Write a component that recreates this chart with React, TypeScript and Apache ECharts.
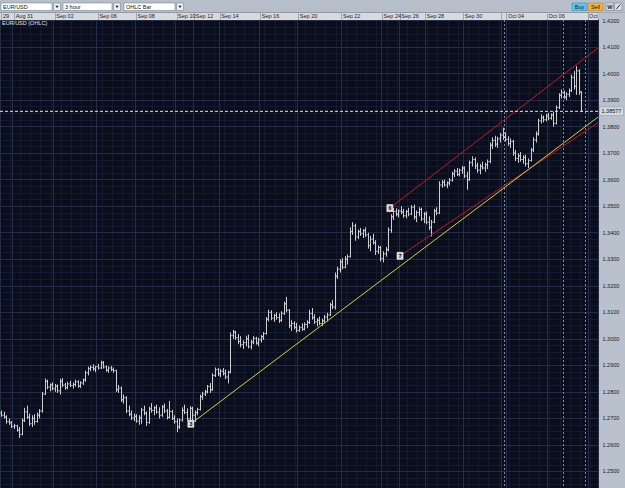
import React, { useEffect, useRef } from 'react';
import * as echarts from 'echarts';

const FONT = '"Liberation Sans", Arial, sans-serif';
const SLOT_COUNT = 235;
const seriesName = 'EUR/USD (OHLC)';
const toolbarItems = ['EUR/USD', '3 hour', 'OHLC Bar'];

// first bar index of each labelled day in the header strip
const dayStarts = [0, 5, 21, 38, 53, 69, 76, 86, 102, 117, 134, 150, 157, 167, 182, 197, 199, 215, 231];
const dayNames = ['29', 'Aug 31', 'Sep 02', 'Sep 06', 'Sep 08', 'Sep 10', 'Sep 12', 'Sep 14', 'Sep 16', 'Sep 20', 'Sep 22', 'Sep 24', 'Sep 26', 'Sep 28', 'Sep 30', '', 'Oct 04', 'Oct 06', 'Oct 08'];

// 3-hour bars: [open, high, low, close]
const ohlc: number[][] = [
  [1.2720, 1.2730, 1.2706, 1.2712], [1.2712, 1.2725, 1.2700, 1.2705], [1.2705, 1.2712, 1.2680, 1.2688], [1.2688, 1.2700, 1.2676, 1.2684],
  [1.2684, 1.2690, 1.2664, 1.2670], [1.2670, 1.2680, 1.2660, 1.2672], [1.2672, 1.2676, 1.2650, 1.2656], [1.2656, 1.2668, 1.2627, 1.2640],
  [1.2640, 1.2700, 1.2636, 1.2692], [1.2692, 1.2740, 1.2686, 1.2725], [1.2725, 1.2748, 1.2698, 1.2705], [1.2705, 1.2718, 1.2672, 1.2680],
  [1.2680, 1.2712, 1.2668, 1.2700], [1.2700, 1.2716, 1.2676, 1.2688], [1.2688, 1.2722, 1.2684, 1.2712], [1.2712, 1.2735, 1.2700, 1.2728],
  [1.2728, 1.2800, 1.2722, 1.2792], [1.2792, 1.2850, 1.2788, 1.2840], [1.2840, 1.2846, 1.2810, 1.2818], [1.2818, 1.2832, 1.2802, 1.2826],
  [1.2826, 1.2836, 1.2806, 1.2812], [1.2812, 1.2830, 1.2800, 1.2822], [1.2822, 1.2828, 1.2796, 1.2804], [1.2804, 1.2850, 1.2790, 1.2840],
  [1.2840, 1.2852, 1.2818, 1.2826], [1.2826, 1.2834, 1.2808, 1.2816], [1.2816, 1.2838, 1.2810, 1.2830], [1.2830, 1.2842, 1.2818, 1.2824],
  [1.2824, 1.2836, 1.2812, 1.2828], [1.2828, 1.2846, 1.2820, 1.2838], [1.2838, 1.2844, 1.2816, 1.2822], [1.2822, 1.2840, 1.2815, 1.2834],
  [1.2834, 1.2850, 1.2826, 1.2846], [1.2846, 1.2880, 1.2838, 1.2872], [1.2872, 1.2895, 1.2862, 1.2888], [1.2888, 1.2900, 1.2878, 1.2892],
  [1.2892, 1.2904, 1.2880, 1.2886], [1.2886, 1.2898, 1.2874, 1.2895], [1.2895, 1.2906, 1.2884, 1.2890], [1.2890, 1.2918, 1.2886, 1.2910],
  [1.2910, 1.2916, 1.2888, 1.2894], [1.2894, 1.2900, 1.2876, 1.2882], [1.2882, 1.2896, 1.2872, 1.2890], [1.2890, 1.2898, 1.2878, 1.2884],
  [1.2884, 1.2892, 1.2872, 1.2880], [1.2880, 1.2884, 1.2800, 1.2808], [1.2808, 1.2826, 1.2796, 1.2814], [1.2814, 1.2820, 1.2762, 1.2770],
  [1.2770, 1.2790, 1.2756, 1.2778], [1.2778, 1.2784, 1.2720, 1.2728], [1.2728, 1.2748, 1.2708, 1.2716], [1.2716, 1.2730, 1.2694, 1.2702],
  [1.2702, 1.2718, 1.2690, 1.2708], [1.2708, 1.2716, 1.2684, 1.2690], [1.2690, 1.2712, 1.2676, 1.2702], [1.2702, 1.2740, 1.2680, 1.2732],
  [1.2732, 1.2748, 1.2712, 1.2720], [1.2720, 1.2726, 1.2672, 1.2684], [1.2684, 1.2744, 1.2680, 1.2736], [1.2736, 1.2758, 1.2722, 1.2730],
  [1.2730, 1.2746, 1.2712, 1.2740], [1.2740, 1.2752, 1.2718, 1.2724], [1.2724, 1.2742, 1.2700, 1.2712], [1.2712, 1.2750, 1.2706, 1.2744],
  [1.2744, 1.2756, 1.2720, 1.2728], [1.2728, 1.2736, 1.2696, 1.2704], [1.2704, 1.2766, 1.2700, 1.2726], [1.2726, 1.2732, 1.2694, 1.2700],
  [1.2700, 1.2712, 1.2680, 1.2688], [1.2688, 1.2700, 1.2648, 1.2668], [1.2668, 1.2700, 1.2660, 1.2694], [1.2694, 1.2742, 1.2688, 1.2730],
  [1.2730, 1.2752, 1.2716, 1.2722], [1.2722, 1.2738, 1.2692, 1.2700], [1.2700, 1.2746, 1.2690, 1.2738], [1.2738, 1.2744, 1.2682, 1.2712],
  [1.2712, 1.2730, 1.2686, 1.2722], [1.2722, 1.2740, 1.2712, 1.2734], [1.2734, 1.2790, 1.2730, 1.2782], [1.2782, 1.2800, 1.2770, 1.2792],
  [1.2792, 1.2808, 1.2784, 1.2800], [1.2800, 1.2826, 1.2794, 1.2820], [1.2820, 1.2834, 1.2796, 1.2808], [1.2808, 1.2870, 1.2804, 1.2862],
  [1.2862, 1.2892, 1.2856, 1.2884], [1.2884, 1.2890, 1.2860, 1.2868], [1.2868, 1.2886, 1.2856, 1.2878], [1.2878, 1.2890, 1.2862, 1.2870],
  [1.2870, 1.2884, 1.2848, 1.2856], [1.2856, 1.2880, 1.2832, 1.2874], [1.2874, 1.3024, 1.2870, 1.3012], [1.3012, 1.3034, 1.3000, 1.3026],
  [1.3026, 1.3030, 1.2996, 1.3004], [1.3004, 1.3018, 1.2980, 1.2990], [1.2990, 1.3010, 1.2968, 1.2978], [1.2978, 1.2994, 1.2962, 1.2986],
  [1.2986, 1.3012, 1.2972, 1.3000], [1.3000, 1.3016, 1.2964, 1.2970], [1.2970, 1.2996, 1.2960, 1.2988], [1.2988, 1.3010, 1.2980, 1.3002],
  [1.3002, 1.3008, 1.2978, 1.2984], [1.2984, 1.3004, 1.2972, 1.2996], [1.2996, 1.3014, 1.2986, 1.3008], [1.3008, 1.3026, 1.2996, 1.3020],
  [1.3020, 1.3082, 1.3016, 1.3074], [1.3074, 1.3110, 1.3066, 1.3100], [1.3100, 1.3108, 1.3070, 1.3078], [1.3078, 1.3094, 1.3064, 1.3088],
  [1.3088, 1.3100, 1.3072, 1.3080], [1.3080, 1.3096, 1.3060, 1.3070], [1.3070, 1.3104, 1.3064, 1.3096], [1.3096, 1.3140, 1.3090, 1.3132],
  [1.3132, 1.3158, 1.3100, 1.3108], [1.3108, 1.3112, 1.3040, 1.3050], [1.3050, 1.3070, 1.3030, 1.3058], [1.3058, 1.3066, 1.3036, 1.3044],
  [1.3044, 1.3060, 1.3024, 1.3032], [1.3032, 1.3050, 1.3026, 1.3042], [1.3042, 1.3058, 1.3030, 1.3036], [1.3036, 1.3062, 1.3032, 1.3054],
  [1.3054, 1.3070, 1.3040, 1.3062], [1.3062, 1.3110, 1.3056, 1.3096], [1.3096, 1.3116, 1.3072, 1.3080], [1.3080, 1.3092, 1.3056, 1.3064],
  [1.3064, 1.3078, 1.3046, 1.3070], [1.3070, 1.3084, 1.3052, 1.3058], [1.3058, 1.3076, 1.3048, 1.3068], [1.3068, 1.3090, 1.3060, 1.3082],
  [1.3082, 1.3098, 1.3066, 1.3090], [1.3090, 1.3136, 1.3086, 1.3128], [1.3128, 1.3146, 1.3112, 1.3120], [1.3120, 1.3250, 1.3110, 1.3236],
  [1.3236, 1.3272, 1.3226, 1.3262], [1.3262, 1.3300, 1.3250, 1.3290], [1.3290, 1.3304, 1.3262, 1.3270], [1.3270, 1.3312, 1.3266, 1.3300],
  [1.3300, 1.3318, 1.3280, 1.3310], [1.3310, 1.3420, 1.3306, 1.3404], [1.3404, 1.3440, 1.3392, 1.3426], [1.3426, 1.3434, 1.3370, 1.3384],
  [1.3384, 1.3412, 1.3376, 1.3404], [1.3404, 1.3418, 1.3388, 1.3396], [1.3396, 1.3414, 1.3380, 1.3408], [1.3408, 1.3420, 1.3384, 1.3392],
  [1.3392, 1.3400, 1.3340, 1.3352], [1.3352, 1.3388, 1.3330, 1.3376], [1.3376, 1.3396, 1.3356, 1.3362], [1.3362, 1.3372, 1.3316, 1.3330],
  [1.3330, 1.3352, 1.3320, 1.3344], [1.3344, 1.3350, 1.3292, 1.3302], [1.3302, 1.3330, 1.3288, 1.3320], [1.3320, 1.3346, 1.3310, 1.3336],
  [1.3336, 1.3420, 1.3330, 1.3410], [1.3410, 1.3470, 1.3400, 1.3460], [1.3460, 1.3494, 1.3448, 1.3480], [1.3480, 1.3492, 1.3462, 1.3470],
  [1.3470, 1.3488, 1.3458, 1.3482], [1.3482, 1.3500, 1.3470, 1.3478], [1.3478, 1.3490, 1.3456, 1.3464], [1.3464, 1.3486, 1.3454, 1.3480],
  [1.3480, 1.3494, 1.3462, 1.3470], [1.3470, 1.3504, 1.3466, 1.3496], [1.3496, 1.3506, 1.3450, 1.3460], [1.3460, 1.3484, 1.3440, 1.3476],
  [1.3476, 1.3496, 1.3462, 1.3488], [1.3488, 1.3494, 1.3444, 1.3452], [1.3452, 1.3478, 1.3436, 1.3470], [1.3470, 1.3480, 1.3432, 1.3440],
  [1.3440, 1.3462, 1.3410, 1.3420], [1.3420, 1.3448, 1.3386, 1.3440], [1.3440, 1.3490, 1.3436, 1.3482], [1.3482, 1.3496, 1.3466, 1.3474],
  [1.3474, 1.3594, 1.3470, 1.3580], [1.3580, 1.3598, 1.3570, 1.3590], [1.3590, 1.3600, 1.3574, 1.3580], [1.3580, 1.3594, 1.3568, 1.3588],
  [1.3588, 1.3606, 1.3578, 1.3598], [1.3598, 1.3630, 1.3592, 1.3622], [1.3622, 1.3640, 1.3610, 1.3632], [1.3632, 1.3644, 1.3614, 1.3620],
  [1.3620, 1.3642, 1.3612, 1.3636], [1.3636, 1.3652, 1.3622, 1.3644], [1.3644, 1.3650, 1.3606, 1.3614], [1.3614, 1.3630, 1.3562, 1.3600],
  [1.3600, 1.3672, 1.3596, 1.3664], [1.3664, 1.3688, 1.3650, 1.3676], [1.3676, 1.3684, 1.3640, 1.3652], [1.3652, 1.3664, 1.3626, 1.3636],
  [1.3636, 1.3660, 1.3620, 1.3650], [1.3650, 1.3668, 1.3638, 1.3644], [1.3644, 1.3664, 1.3630, 1.3656], [1.3656, 1.3676, 1.3640, 1.3668],
  [1.3668, 1.3740, 1.3662, 1.3730], [1.3730, 1.3760, 1.3716, 1.3748], [1.3748, 1.3766, 1.3724, 1.3734], [1.3734, 1.3762, 1.3720, 1.3754],
  [1.3754, 1.3776, 1.3740, 1.3768], [1.3768, 1.3796, 1.3750, 1.3760], [1.3760, 1.3778, 1.3744, 1.3752], [1.3752, 1.3764, 1.3728, 1.3736],
  [1.3736, 1.3756, 1.3720, 1.3744], [1.3744, 1.3750, 1.3690, 1.3700], [1.3700, 1.3712, 1.3670, 1.3680], [1.3680, 1.3700, 1.3664, 1.3690],
  [1.3690, 1.3704, 1.3668, 1.3676], [1.3676, 1.3692, 1.3660, 1.3684], [1.3684, 1.3694, 1.3650, 1.3660], [1.3660, 1.3680, 1.3644, 1.3672],
  [1.3672, 1.3720, 1.3668, 1.3712], [1.3712, 1.3760, 1.3704, 1.3750], [1.3750, 1.3782, 1.3740, 1.3772], [1.3772, 1.3830, 1.3766, 1.3822],
  [1.3822, 1.3846, 1.3812, 1.3834], [1.3834, 1.3842, 1.3816, 1.3826], [1.3826, 1.3848, 1.3820, 1.3840], [1.3840, 1.3852, 1.3824, 1.3832],
  [1.3832, 1.3850, 1.3826, 1.3844], [1.3844, 1.3856, 1.3800, 1.3812], [1.3812, 1.3880, 1.3808, 1.3872], [1.3872, 1.3926, 1.3866, 1.3918],
  [1.3918, 1.3940, 1.3906, 1.3930], [1.3930, 1.3936, 1.3904, 1.3912], [1.3912, 1.3930, 1.3900, 1.3922], [1.3922, 1.3944, 1.3912, 1.3936],
  [1.3936, 1.3996, 1.3930, 1.3986], [1.3986, 1.4010, 1.3940, 1.3952], [1.3952, 1.4028, 1.3920, 1.4010], [1.4010, 1.4016, 1.3920, 1.3930],
  [1.3930, 1.3934, 1.3856, 1.3858],
];

const lastPrice = 1.38577;

// trend lines: [slot, price] anchor points
const yellowTrend = [[74.5, 1.2680], [234.5, 1.3836]];
const redUpper = [[152.7, 1.3493], [234.5, 1.4097]];
const redLower = [[156.7, 1.3313], [234.5, 1.3815]];

// numbered anchor points
const pointLabels = ['3', '6', '7'];
const pointSlots = [74.5, 152.7, 156.7];
const pointPrices = [1.2680, 1.3493, 1.3313];

// dashed vertical session markers
const sessionMarks = [197.5, 220.7, 229.4];

const PANEL = '#b9c1cc';
const TOOLBAR = '#b6bec9';
const HEADER = '#d6d9dd';
const PLOT_BG = '#090d1c';

// The chart canvas starts SHIFT px above the page top so the price scale
// (1.24 .. 1.43) can use round tick values while the page shows 1.2437 .. 1.4203.
const SHIFT = 6;
const CHART_H = 504;

function buildOption() {
  const cats = Array.from({ length: SLOT_COUNT }, (_, i) => String(i));
  const isDay = (i: number) => dayStarts.indexOf(i) >= 0;
  const Y = (v: number) => v + SHIFT;

  const dropdownLayout = [
    { x: 1, w: 51 },
    { x: 63, w: 49 },
    { x: 124, w: 51 },
  ];
  const graphics: any[] = [
    { type: 'rect', z: 0, silent: true, shape: { x: 598, y: 0, width: 27, height: CHART_H }, style: { fill: PANEL } },
    { type: 'rect', z: 50, silent: true, shape: { x: 0, y: 0, width: 625, height: Y(12.5) }, style: { fill: TOOLBAR } },
    { type: 'rect', z: 50, silent: true, shape: { x: 0, y: Y(12.5), width: 598, height: 7.5 }, style: { fill: HEADER } },
    { type: 'line', z: 51, silent: true, shape: { x1: 0, y1: Y(12.5), x2: 625, y2: Y(12.5) }, style: { stroke: '#8e96a2', lineWidth: 0.6 } },
    { type: 'rect', z: 70, silent: true, shape: { x: 598, y: Y(12.8), width: 27, height: 6.2 }, style: { fill: PANEL } },
  ];
  dropdownLayout.forEach((d, k) => {
    graphics.push({ type: 'rect', z: 52, silent: true, shape: { x: d.x, y: Y(3), width: d.w, height: 7.5 }, style: { fill: '#ffffff', stroke: '#7b8796', lineWidth: 0.6 } });
    graphics.push({ type: 'text', z: 53, silent: true, style: { x: d.x + 2, y: Y(6.9), text: toolbarItems[k], fill: '#111', fontSize: 5.5, fontFamily: FONT, verticalAlign: 'middle' } });
    const ax = d.x + d.w + 1.5;
    graphics.push({ type: 'rect', z: 52, silent: true, shape: { x: ax, y: Y(3), width: 7, height: 7.5 }, style: { fill: '#eceef1', stroke: '#7b8796', lineWidth: 0.6 } });
    graphics.push({ type: 'polygon', z: 53, silent: true, shape: { points: [[ax + 1.8, Y(5.8)], [ax + 5.2, Y(5.8)], [ax + 3.5, Y(8)]] }, style: { fill: '#222' } });
  });
  graphics.push({ type: 'rect', z: 52, silent: true, shape: { x: 572, y: Y(3), width: 15, height: 7.5 }, style: { fill: '#5ec4f2', stroke: '#3c8fbf', lineWidth: 0.6 } });
  graphics.push({ type: 'text', z: 53, silent: true, style: { x: 579.5, y: Y(6.9), text: 'Buy', fill: '#102030', fontSize: 5.5, fontFamily: FONT, align: 'center', verticalAlign: 'middle' } });
  graphics.push({ type: 'rect', z: 52, silent: true, shape: { x: 588, y: Y(3), width: 15, height: 7.5 }, style: { fill: '#f4b23c', stroke: '#c2821e', lineWidth: 0.6 } });
  graphics.push({ type: 'text', z: 53, silent: true, style: { x: 595.5, y: Y(6.9), text: 'Sell', fill: '#201000', fontSize: 5.5, fontFamily: FONT, align: 'center', verticalAlign: 'middle' } });
  graphics.push({ type: 'rect', z: 52, silent: true, shape: { x: 606, y: Y(3), width: 7.5, height: 7.5 }, style: { fill: '#d9dde3', stroke: '#7b8796', lineWidth: 0.6 } });
  graphics.push({ type: 'text', z: 53, silent: true, style: { x: 609.75, y: Y(6.9), text: 'W', fill: '#222', fontSize: 5.5, fontFamily: FONT, fontWeight: 'bold', align: 'center', verticalAlign: 'middle' } });
  graphics.push({ type: 'rect', z: 52, silent: true, shape: { x: 614.5, y: Y(3), width: 7.5, height: 7.5 }, style: { fill: '#d9dde3', stroke: '#7b8796', lineWidth: 0.6 } });
  graphics.push({ type: 'line', z: 53, silent: true, shape: { x1: 616.3, y1: Y(9), x2: 620.3, y2: Y(4.5) }, style: { stroke: '#222', lineWidth: 0.9 } });

  const lineSeries = (name: string, data: number[][], color: string) => ({
    name,
    type: 'line',
    xAxisIndex: 3,
    yAxisIndex: 0,
    data,
    showSymbol: false,
    symbol: 'none',
    silent: true,
    z: 6,
    lineStyle: { color, width: 1 },
  });

  return {
    animation: false,
    backgroundColor: PLOT_BG,
    textStyle: { fontFamily: FONT },
    graphic: graphics,
    legend: {
      data: [{ name: seriesName, icon: 'none' }],
      left: -3,
      top: Y(19.5),
      padding: 0,
      itemWidth: 0,
      itemHeight: 0,
      selectedMode: false,
      z: 60,
      textStyle: { color: '#e4e4e4', fontSize: 5.5, fontFamily: FONT },
    },
    grid: [
      { left: 0, right: 27, top: 0, bottom: 0, containLabel: false },
      { left: 0, right: 27, top: 0, height: Y(20), containLabel: false },
    ],
    xAxis: [
      {
        type: 'category',
        gridIndex: 1,
        data: cats,
        position: 'bottom',
        z: 60,
        axisLine: { show: false },
        axisTick: { show: true, inside: true, interval: (i: number) => isDay(i), length: 7.5, lineStyle: { color: '#8c929b', width: 0.7 } },
        axisLabel: {
          inside: true,
          interval: (i: number) => isDay(i),
          formatter: (v: string) => { const k = dayStarts.indexOf(Number(v)); return k >= 0 ? dayNames[k] : ''; },
          align: 'left',
          margin: 1.2,
          color: '#1c1c1c',
          fontSize: 5.5,
          fontFamily: FONT,
        },
        splitLine: { show: false },
      },
      {
        type: 'category',
        gridIndex: 0,
        data: cats,
        z: 2,
        axisLine: { show: false },
        axisTick: { show: false },
        axisLabel: { show: false },
        splitLine: { show: true, interval: (i: number) => isDay(i), lineStyle: { color: '#242c48', width: 1 } },
      },
      {
        type: 'category',
        gridIndex: 0,
        data: cats,
        z: 1,
        axisLine: { show: false },
        axisTick: { show: false },
        axisLabel: { show: false },
        splitLine: { show: true, interval: (i: number) => i % 4 === 0, lineStyle: { color: '#131a2e', width: 1 } },
      },
      {
        type: 'value',
        gridIndex: 0,
        min: -0.5,
        max: SLOT_COUNT - 0.5,
        show: false,
        splitLine: { show: false },
      },
    ],
    yAxis: [
      {
        type: 'value',
        gridIndex: 0,
        position: 'right',
        min: 1.24,
        max: 1.43,
        interval: 0.01,
        z: 2,
        axisLine: { show: false },
        axisTick: { show: false },
        axisLabel: {
          formatter: (v: number) => v.toFixed(4),
          showMinLabel: false,
          showMaxLabel: false,
          color: '#1a1a1a',
          fontSize: 5.5,
          margin: 4.5,
          fontFamily: FONT,
        },
        splitLine: { show: true, lineStyle: { color: '#242c48', width: 1 } },
        minorTick: { show: false, splitNumber: 4 },
        minorSplitLine: { show: true, lineStyle: { color: '#131a2e', width: 1 } },
      },
      { type: 'value', gridIndex: 1, show: false, min: 0, max: 1 },
    ],
    series: [
      {
        name: seriesName,
        type: 'custom',
        xAxisIndex: 3,
        yAxisIndex: 0,
        z: 5,
        data: ohlc.map((b, i) => [i, b[0], b[1], b[2], b[3]]),
        encode: { x: 0, y: [1, 2, 3, 4] },
        renderItem: (params: any, api: any) => {
          const slot = api.value(0);
          const o = api.coord([slot, api.value(1)]);
          const h = api.coord([slot, api.value(2)]);
          const l = api.coord([slot, api.value(3)]);
          const c = api.coord([slot, api.value(4)]);
          const px = Math.round(o[0]) + 0.5;
          const style = { stroke: '#cfcfcf', lineWidth: 1 };
          return {
            type: 'group',
            children: [
              { type: 'line', shape: { x1: px, y1: h[1], x2: px, y2: l[1] }, style },
              { type: 'line', shape: { x1: px - 1.2, y1: o[1], x2: px, y2: o[1] }, style },
              { type: 'line', shape: { x1: px, y1: c[1], x2: px + 1.2, y2: c[1] }, style },
            ],
          };
        },
        markLine: {
          silent: true,
          symbol: ['none', 'none'],
          animation: false,
          data: sessionMarks.map((s) => ({
            xAxis: s,
            lineStyle: { color: '#7f889a', type: [2, 2], width: 1 },
            label: { show: false },
          })),
        },
      },
      {
        name: 'last price',
        type: 'line',
        xAxisIndex: 3,
        yAxisIndex: 0,
        z: 7,
        silent: true,
        showSymbol: false,
        symbol: 'none',
        data: [[-0.5, lastPrice], [SLOT_COUNT - 0.5, lastPrice]],
        lineStyle: { color: '#e8e8e8', type: [3, 2], width: 1 },
        endLabel: {
          show: true,
          distance: 1.5,
          formatter: () => String(lastPrice),
          color: '#111',
          fontSize: 5.5,
          fontFamily: FONT,
          backgroundColor: '#d3d9e1',
          borderColor: '#8a95a5',
          borderWidth: 0.5,
          padding: [1.2, 2, 1, 2],
        },
      },
      lineSeries('channel top', redUpper, '#c8142c'),
      lineSeries('channel bottom', redLower, '#c8142c'),
      lineSeries('trend', yellowTrend, '#d2d22a'),
      {
        name: 'points',
        type: 'scatter',
        xAxisIndex: 3,
        yAxisIndex: 0,
        z: 8,
        silent: true,
        symbol: 'rect',
        symbolSize: [6, 7],
        data: pointSlots.map((s, i) => [s, pointPrices[i], pointLabels[i]]),
        itemStyle: { color: '#d6d6d6', borderColor: '#ffffff', borderWidth: 0.6, opacity: 1 },
        label: { show: true, position: 'inside', formatter: (p: any) => p.value[2], color: '#000', fontSize: 5, fontFamily: FONT, fontWeight: 'bold' },
      },
    ],
  };
}

export default function App() {
  const ref = useRef<HTMLDivElement>(null);
  useEffect(() => {
    if (!ref.current) return;
    const chart = echarts.init(ref.current, undefined, { renderer: 'svg' });
    chart.setOption(buildOption() as any);
    return () => chart.dispose();
  }, []);
  return <div ref={ref} style={{ position: 'fixed', left: 0, top: -SHIFT, width: 625, height: CHART_H }} />;
}
